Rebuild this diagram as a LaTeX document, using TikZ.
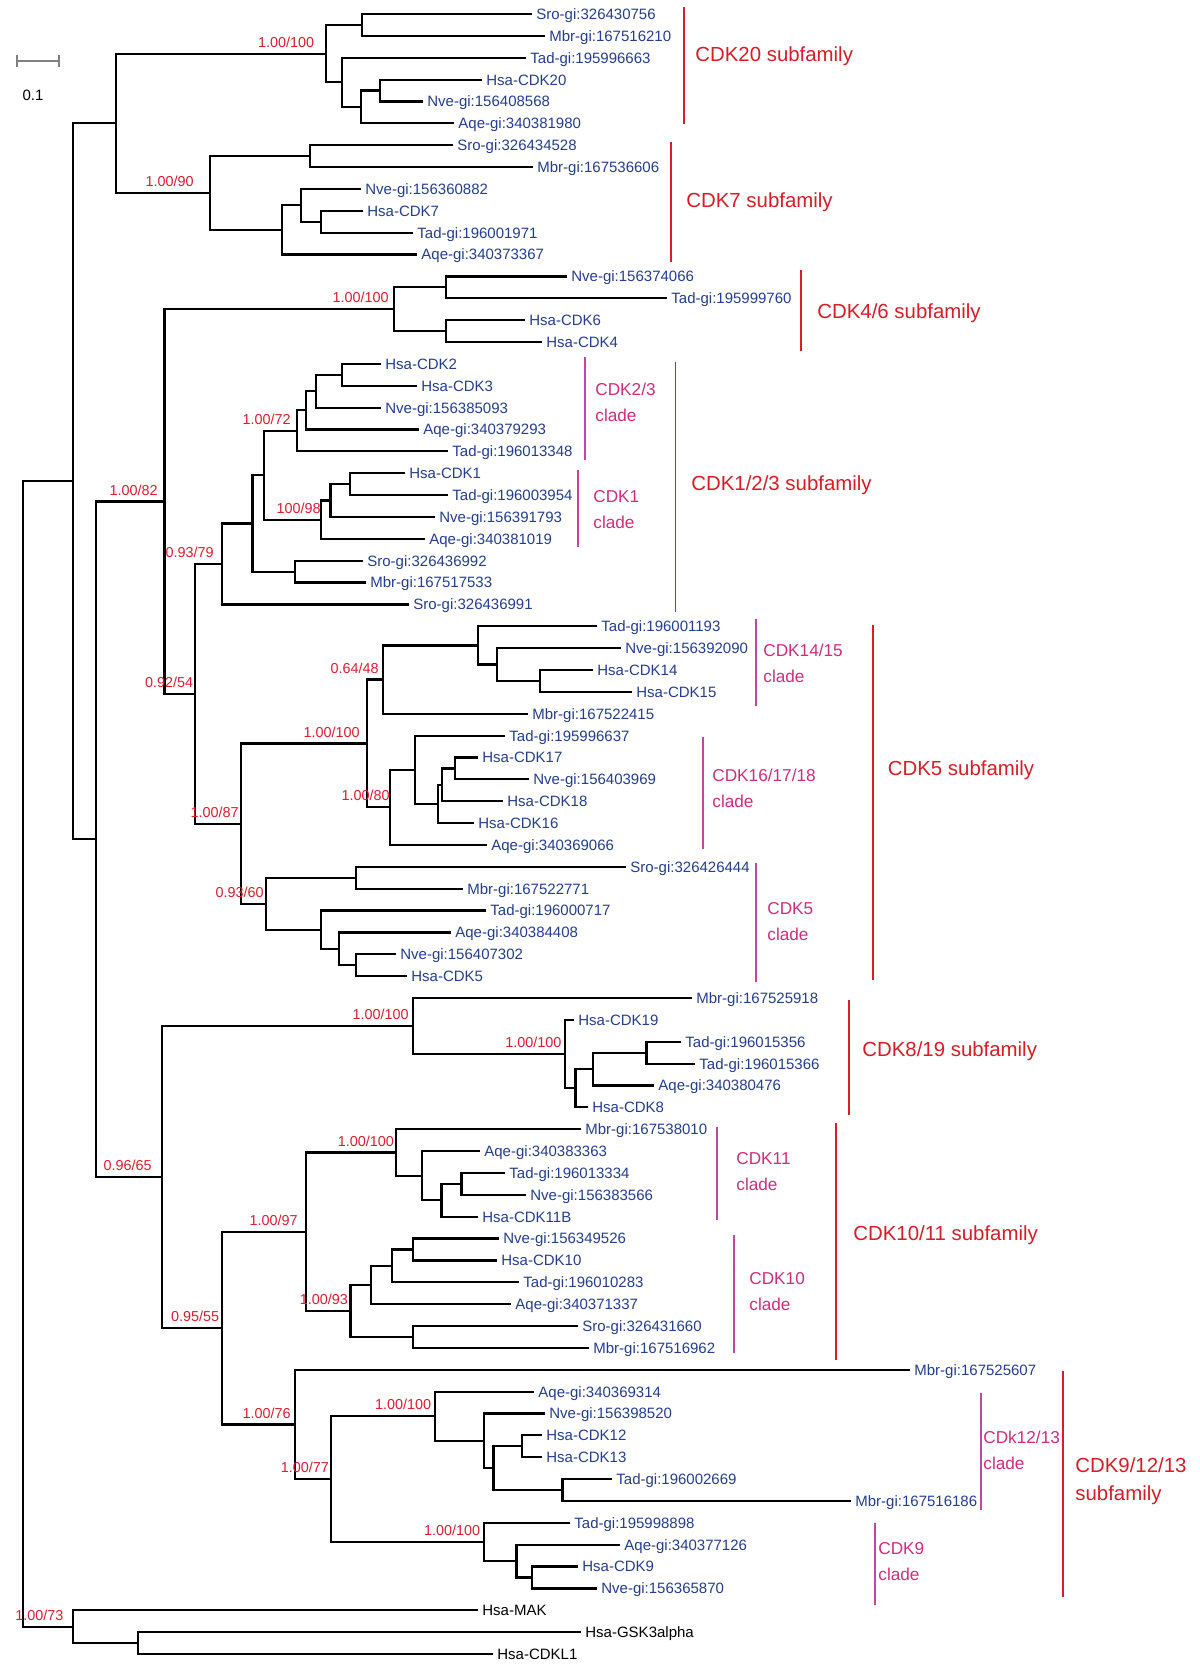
\documentclass[tikz,border=0pt]{standalone}
\usepackage{fontspec}
\setmainfont{Liberation Sans}
\usetikzlibrary{calc}
\definecolor{leafblue}{RGB}{36,62,145}
\definecolor{bootred}{RGB}{222,30,45}
\definecolor{famred}{RGB}{218,28,36}
\definecolor{cladepink}{RGB}{210,45,125}
\definecolor{cladeline}{RGB}{195,70,160}
\begin{document}
\begin{tikzpicture}[x=0.5pt, y=-0.5pt,
    branch/.style={line width=1.1pt},
    leaf/.style={anchor=west, inner xsep=2pt, inner ysep=0pt, text height=5.4pt, text depth=0pt,
      font=\fontsize{7.5}{9}\selectfont, text=leafblue},
    boot/.style={anchor=base east, inner xsep=1.5pt, inner ysep=0pt, yshift=3.2pt,
      font=\fontsize{7.2}{9}\selectfont, text=bootred},
    subfam/.style={famred, line width=0.8pt},
    famname/.style={anchor=west, inner sep=0pt, align=left, font=\fontsize{10.2}{14}\selectfont, text=famred},
    cladebar/.style={cladeline, line width=0.6pt},
    cladename/.style={anchor=west, inner sep=0pt, align=left, font=\fontsize{8.6}{13}\selectfont, text=cladepink}]
  \fill[white] (0,0) rectangle (1200,1677);
  \useasboundingbox (0,0) rectangle (1200,1677);

  % scale bar
  \draw[gray, line width=1pt] (17,55) -- (17,67) (17,61) -- (59,61) (59,55) -- (59,67);
  \node[font=\fontsize{7.5}{9}\selectfont] (scale) at (33,95) {0.1};

  % leaves
  \foreach \i/\lab/\ex in {1/Sro-gi:326430756/532, 2/Mbr-gi:167516210/545, 3/Tad-gi:195996663/526,
      4/Hsa-CDK20/482, 5/Nve-gi:156408568/423, 6/Aqe-gi:340381980/454,
      7/Sro-gi:326434528/453, 8/Mbr-gi:167536606/533, 9/Nve-gi:156360882/361,
      10/Hsa-CDK7/363, 11/Tad-gi:196001971/413, 12/Aqe-gi:340373367/417,
      13/Nve-gi:156374066/567, 14/Tad-gi:195999760/667, 15/Hsa-CDK6/525, 16/Hsa-CDK4/542,
      17/Hsa-CDK2/381, 18/Hsa-CDK3/417, 19/Nve-gi:156385093/381, 20/Aqe-gi:340379293/419,
      21/Tad-gi:196013348/448, 22/Hsa-CDK1/405, 23/Tad-gi:196003954/448,
      24/Nve-gi:156391793/435, 25/Aqe-gi:340381019/425, 26/Sro-gi:326436992/363,
      27/Mbr-gi:167517533/366, 28/Sro-gi:326436991/409,
      29/Tad-gi:196001193/597, 30/Nve-gi:156392090/621, 31/Hsa-CDK14/593, 32/Hsa-CDK15/632,
      33/Mbr-gi:167522415/528, 34/Tad-gi:195996637/505, 35/Hsa-CDK17/478,
      36/Nve-gi:156403969/529, 37/Hsa-CDK18/503, 38/Hsa-CDK16/474, 39/Aqe-gi:340369066/487,
      40/Sro-gi:326426444/626, 41/Mbr-gi:167522771/463, 42/Tad-gi:196000717/486,
      43/Aqe-gi:340384408/451, 44/Nve-gi:156407302/396, 45/Hsa-CDK5/407,
      46/Mbr-gi:167525918/692, 47/Hsa-CDK19/574, 48/Tad-gi:196015356/681,
      49/Tad-gi:196015366/695, 50/Aqe-gi:340380476/654, 51/Hsa-CDK8/588,
      52/Mbr-gi:167538010/581, 53/Aqe-gi:340383363/480, 54/Tad-gi:196013334/505,
      55/Nve-gi:156383566/526, 56/Hsa-CDK11B/478, 57/Nve-gi:156349526/499,
      58/Hsa-CDK10/497, 59/Tad-gi:196010283/519, 60/Aqe-gi:340371337/511,
      61/Sro-gi:326431660/578, 62/Mbr-gi:167516962/589, 63/Mbr-gi:167525607/910,
      64/Aqe-gi:340369314/534, 65/Nve-gi:156398520/545, 66/Hsa-CDK12/542, 67/Hsa-CDK13/542,
      68/Tad-gi:196002669/612, 69/Mbr-gi:167516186/851, 70/Tad-gi:195998898/570,
      71/Aqe-gi:340377126/620, 72/Hsa-CDK9/578, 73/Nve-gi:156365870/597}
    \node[leaf] (l\i) at (\ex,{14+21.867*(\i-1)}) {\lab};
  \foreach \i/\lab/\ex in {74/Hsa-MAK/478, 75/Hsa-GSK3alpha/581, 76/Hsa-CDKL1/493}
    \node[leaf, text=black] (l\i) at (\ex,{14+21.867*(\i-1)}) {\lab};

  % clades: name/x/first child/second child
  \foreach \n/\xx/\ca/\cb in {a1/362/l1.west/l2.west, a2/380/l4.west/l5.west, a3/361/a2/l6.west,
      a4/342/l3.west/a3, a5/326/a1/a4,
      b1/310/l7.west/l8.west, b2/321/l10.west/l11.west, b3/301/l9.west/b2,
      b4/282/b3/l12.west, b5/210/b1/b4, ab/116/a5/b5,
      c1/446/l13.west/l14.west, c2/446/l15.west/l16.west, c3/394/c1/c2,
      d1/342/l17.west/l18.west, d2/316/d1/l19.west, d3/306/d2/l20.west, d4/297/d3/l21.west,
      e1/350/l22.west/l23.west, e2/330.5/e1/l24.west, e3/321/e2/l25.west,
      f1/264/d4/e3, f2/294.6/l26.west/l27.west, f3/252.5/f1/f2, f4/222/f3/l28.west,
      g1/540/l31.west/l32.west, g2/497/l30.west/g1, g3/478/l29.west/g2, g4/382.6/g3/l33.west,
      h1/455/l35.west/l36.west, h2/442.2/h1/l37.west, h3/437.6/h2/l38.west,
      h4/414.7/l34.west/h3, h5/390/h4/l39.west, i1/367/g4/h5,
      j1/355.8/l40.west/l41.west, j2/355.8/l44.west/l45.west, j3/339/l43.west/j2,
      j4/321/l42.west/j3, j5/266/j1/j4,
      k1/241/i1/j5, k2/195/f4/k1, k3/164.5/c3/k2,
      m1/646.5/l48.west/l49.west, m2/593/m1/l50.west, m3/575.4/m2/l51.west,
      m4/564.7/l47.west/m3, m5/413/l46.west/m4,
      n1/461.4/l54.west/l55.west, n2/441.5/n1/l56.west, n3/422.3/l53.west/n2, n4/396.3/l52.west/n3,
      o1/413/l57.west/l58.west, o2/391.7/o1/l59.west, o3/371/o2/l60.west,
      o4/413/l61.west/l62.west, o5/350.4/o3/o4, o6/306/n4/o5,
      p1/521.8/l66.west/l67.west, p2/562.4/l68.west/l69.west, p3/493.5/p1/p2,
      p4/483.6/l65.west/p3, p5/434.6/l64.west/p4,
      q1/531.8/l72.west/l73.west, q2/516.5/l71.west/q1, q3/483.6/l70.west/q2,
      q4/331.3/p5/q3, q5/294.6/l63.west/q4, q6/222/o6/q5,
      r1/162/m5/q6, r2/96/k3/r1, r3/73/ab/r2,
      s1/137.7/l75.west/l76.west, s2/72.7/l74.west/s1, root/23/r3/s2} {
    \coordinate (tmp) at ($(\ca)!.5!(\cb)$);
    \coordinate (\n) at (\xx,0 |- tmp);
    \draw[branch] (\ca) -| (\n) |- (\cb);
  }

  % support values
  \foreach \n/\t/\dx in {a5/{1.00/100}/-4.25, b5/{1.00/90}/-6.5, c3/{1.00/100}/-1, d4/{1.00/72}/-1.5,
      e3/{100/98}/1.5, f4/{0.93/79}/-2.5, g4/{0.64/48}/-0.3, h5/{1.00/80}/1.5, i1/{1.00/100}/-2,
      j5/{0.93/60}/0.5, k1/{1.00/87}/0.5, k2/{0.92/54}/0.8, k3/{1.00/82}/-1.75,
      m4/{1.00/100}/0, m5/{1.00/100}/-0.5, n4/{1.00/100}/0.5, o5/{1.00/93}/0.5, o6/{1.00/97}/-2.5,
      p5/{1.00/100}/0, q3/{1.00/100}/0, q4/{1.00/77}/0.5, q5/{1.00/76}/-0.3, q6/{0.95/55}/0.3,
      r1/{0.96/65}/-3.5, s2/{1.00/73}/-3}
    \node[boot, xshift=\dx pt] (bs\n) at (\n) {\t};

  % subfamilies
  \foreach \nm/\bx/\ya/\yb/\tx/\ty/\t in {fam20/684/7/124/695/56/{CDK20 subfamily},
      fam7/671/142/262/686/202/{CDK7 subfamily},
      fam46/801/270/351/817/313/{CDK4/6 subfamily},
      fam123/675.6/362/612/691/485/{CDK1/2/3 subfamily},
      fam5/873/625/980/887.5/770/{CDK5 subfamily},
      fam819/849/1000/1115/862/1051/{CDK8/19 subfamily},
      fam1011/836/1123/1360/853/1235/{CDK10/11 subfamily},
      fam91213/1063/1371/1597/1075/1481.5/{CDK9/12/13\\subfamily}} {
    \draw[subfam] (\bx,\ya) -- (\bx,\yb);
    \node[famname] (\nm) at (\tx,\ty) {\t};
  }

  % clades within subfamilies
  \foreach \nm/\bx/\ya/\yb/\tx/\ty/\t in {cl23/585/357/460/595/402.5/{CDK2/3\\clade},
      cl1/578/470/547/593/510/{CDK1\\clade},
      cl1415/756/619/706/763/663/{CDK14/15\\clade},
      cl161718/703/737/849/712/788.5/{CDK16/17/18\\clade},
      cl5/756/863/982/767/922/{CDK5\\clade},
      cl11/717/1127/1220/736/1171.5/{CDK11\\clade},
      cl10/734/1235/1353/749/1291.5/{CDK10\\clade},
      cl1213/981/1393/1510/983/1450/{CDk12/13\\clade},
      cl9/875/1523/1605/878/1562/{CDK9\\clade}} {
    \draw[cladebar] (\bx,\ya) -- (\bx,\yb);
    \node[cladename] (\nm) at (\tx,\ty) {\t};
  }
\end{tikzpicture}
\end{document}
